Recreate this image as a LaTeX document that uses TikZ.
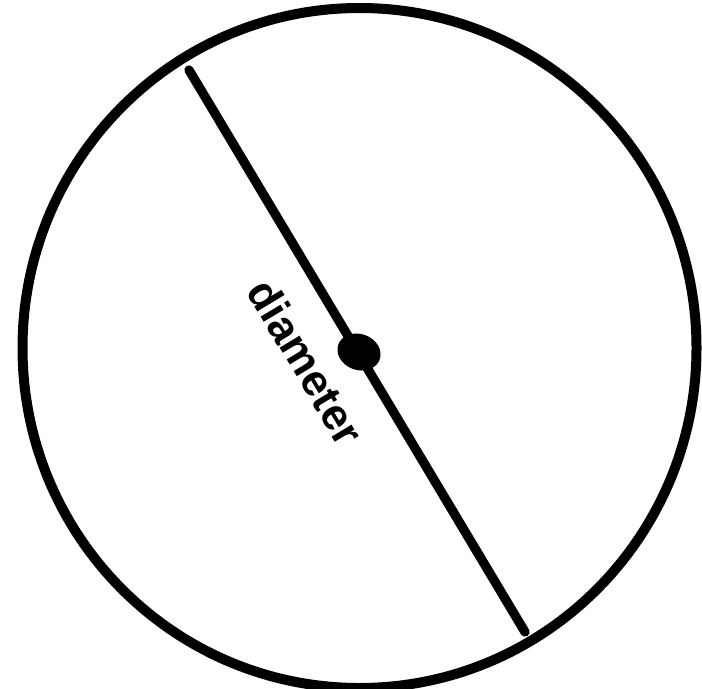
\documentclass[tikz,border=0pt]{standalone}
\usepackage{fontspec}
\setmainfont{Liberation Sans}
\begin{document}
\begin{tikzpicture}[x=0.75pt,y=-0.75pt,
  rim/.style={line width=7.5pt},
  diam/.style={line width=7pt,line cap=round},
  lbl/.style={font=\bfseries\fontsize{33}{38}\selectfont,rotate=-59,inner sep=0pt}]
\useasboundingbox (0,0) rectangle (702,688);
\draw[rim] (359.5,348) ellipse [x radius=337, y radius=340];
\coordinate (a) at (189,70);
\coordinate (b) at (525,632);
\draw[diam] (a) -- (b);
\fill[rotate around={-20:(359,352)}] (359,352) ellipse [x radius=22, y radius=18] node (dot) {};
\node[lbl] (t) at (306,362) {diameter};
\end{tikzpicture}
\end{document}
